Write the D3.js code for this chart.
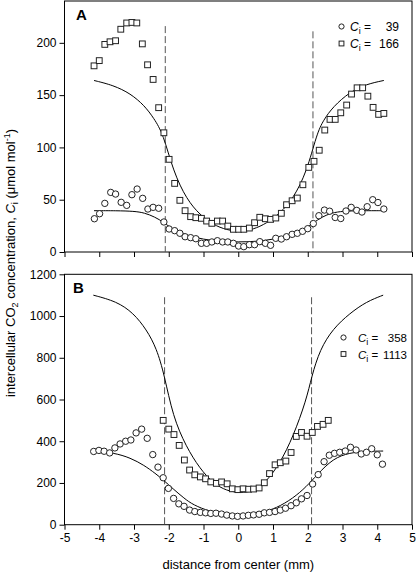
<!DOCTYPE html>
<html><head><meta charset="utf-8">
<script src="https://cdn.jsdelivr.net/npm/d3@7/dist/d3.min.js"></script>
<style>body{margin:0;background:#fff}svg{display:block}text{font-family:"Liberation Sans",Arial,sans-serif;fill:#000}</style>
</head><body>
<script>
// ---------- data ----------
const xTicks = [-5,-4,-3,-2,-1,0,1,2,3,4,5];
const yTicksA = [0,50,100,150,200];
const yTicksB = [0,200,400,600,800,1000,1200];

const circlesA = [[-4.14,31.8],[-3.99,36.6],[-3.84,46.5],[-3.67,57],[-3.53,55.4],[-3.37,47.5],[-3.21,44.6],[-3.06,54.8],[-2.91,60.2],[-2.75,51.3],[-2.6,41.1],[-2.45,42.7],[-2.29,41.8],[-2.14,28.7],[-1.99,22],[-1.83,20.4],[-1.68,17.9],[-1.53,14.6],[-1.37,13.7],[-1.22,12.7],[-1.06,8.3],[-0.91,8.3],[-0.76,9.6],[-0.6,10.8],[-0.45,9.6],[-0.3,9.6],[-0.14,8.3],[0.01,5.7],[0.16,5.1],[0.32,7],[0.47,7],[0.62,9.9],[0.78,8.3],[0.93,6.4],[1.08,13.1],[1.24,12.4],[1.39,14.6],[1.55,16.9],[1.7,17.9],[1.85,19.8],[2.0,22.3],[2.16,27.2],[2.32,34.7],[2.48,40.1],[2.63,39],[2.79,33],[2.95,32],[3.1,39.2],[3.25,42.7],[3.41,39.8],[3.56,38.2],[3.71,43.3],[3.87,50],[4.02,47.3],[4.19,41.1]];
const squaresA = [[-4.15,178],[-4.0,183],[-3.84,198.5],[-3.69,201],[-3.53,202],[-3.38,213],[-3.21,219],[-3.06,219.5],[-2.92,219],[-2.76,199],[-2.61,179],[-2.45,165],[-2.29,138],[-2.14,114],[-1.99,88.6],[-1.83,65.6],[-1.68,49.4],[-1.53,39.5],[-1.37,33.8],[-1.22,32.8],[-1.06,32.2],[-0.91,29.6],[-0.76,27.4],[-0.6,29.6],[-0.45,29.6],[-0.3,24.8],[-0.14,21.7],[0.01,21.7],[0.16,21.7],[0.32,22.9],[0.47,28],[0.62,33.2],[0.78,31.8],[0.93,31.2],[1.08,32.5],[1.24,37],[1.39,45.2],[1.55,49],[1.7,51.6],[1.86,64.3],[2.03,80.9],[2.18,86.7],[2.33,97.3],[2.49,116.6],[2.64,126.8],[2.79,126.8],[2.95,133.1],[3.12,140.5],[3.26,151],[3.42,157],[3.58,157],[3.73,149],[3.88,138.3],[4.04,131.6],[4.19,132.5]];
const fitCirclesA = [[-4.15,39.5],[-3.5,39.5],[-3.0,39],[-2.7,37.5],[-2.4,33.5],[-2.15,28.5],[-1.9,22],[-1.5,16],[-1.0,12],[-0.5,10],[0,9.5],[0.5,10],[1.0,12],[1.5,16],[1.9,21.5],[2.15,27.5],[2.4,33.5],[2.7,37.5],[3.0,39],[3.5,39.5],[4.19,39.5]];
const fitSquaresA = [[-4.15,164],[-3.6,159.5],[-3.1,151.5],[-2.7,140],[-2.43,128],[-2.16,113],[-1.87,77],[-1.48,50],[-1.1,35.5],[-0.72,26],[-0.33,21],[0.05,19.5],[0.43,21.5],[0.82,27.5],[1.2,37],[1.58,51],[1.97,76.5],[2.26,113],[2.45,126],[2.73,139],[3.21,153],[3.69,160.5],[4.19,164]];

const circlesB = [[-4.16,351],[-4.01,356],[-3.86,352],[-3.7,344],[-3.55,368],[-3.4,387],[-3.24,400],[-3.09,406],[-2.94,440],[-2.78,458],[-2.62,414],[-2.46,336],[-2.31,276],[-2.16,225],[-2.01,174],[-1.86,126],[-1.71,100],[-1.56,88],[-1.4,70],[-1.25,63],[-1.09,59],[-0.94,57],[-0.79,54],[-0.64,55],[-0.48,51],[-0.33,46],[-0.17,42],[-0.02,40],[0.14,42],[0.29,45],[0.44,47],[0.6,50],[0.75,57],[0.9,59],[1.06,63],[1.21,70],[1.36,79],[1.52,91],[1.67,105],[1.82,124],[1.98,140],[2.14,195],[2.3,240],[2.47,302],[2.62,333],[2.77,342],[2.92,347],[3.08,353],[3.23,371],[3.39,358],[3.54,339],[3.69,347],[3.84,364],[4.0,335],[4.15,290]];
const squaresB = [[-2.16,500],[-2.0,458],[-1.85,432],[-1.7,380],[-1.55,310],[-1.4,262],[-1.25,239],[-1.09,229],[-0.94,220],[-0.79,205],[-0.63,198],[-0.48,205],[-0.32,196],[-0.17,172],[-0.01,168],[0.14,172],[0.3,170],[0.44,171],[0.6,176],[0.75,201],[0.9,245],[1.06,287],[1.21,297],[1.37,305],[1.52,346],[1.67,423],[1.82,442],[1.98,424],[2.13,442],[2.28,471],[2.44,481],[2.59,500]];
const fitCirclesB = [[-4.16,352],[-3.58,345],[-3.1,320],[-2.71,285],[-2.38,245],[-2.16,215],[-1.85,168],[-1.56,127],[-1.3,95],[-0.82,63],[-0.33,47],[0.05,43],[0.62,55],[1.1,79],[1.58,127],[1.96,182],[2.26,238],[2.73,318],[3.21,345],[3.69,352],[4.17,353]];
const fitSquaresB = [[-4.17,1100],[-3.5,1070],[-3.02,1015],[-2.64,935],[-2.35,845],[-2.13,720],[-1.88,518],[-1.5,374],[-1.11,270],[-0.72,198],[-0.33,162],[0.05,153],[0.43,158],[0.81,206],[1.2,294],[1.58,422],[1.96,598],[2.11,709],[2.35,840],[2.73,940],[3.21,1013],[3.69,1069],[4.17,1100]];

const boundaryA = [[-2.1,216],[2.15,211]];
const boundaryB = [[-2.12,1090],[2.11,1090]];
const legendA = [["39","circle"],["166","square"]];
const legendB = [["358","circle"],["1113","square"]];

// ---------- drawing ----------
const W = 416, H = 573;
const svg = d3.select("body").append("svg").attr("width", W).attr("height", H);
const x = d3.scaleLinear().domain([-5,5]).range([64.5,412]);

function panel(cfg){
  const y = d3.scaleLinear().domain(cfg.ydom).range(cfg.yr);
  const g = svg.append("g");
  g.append("rect").attr("x",x(-5)).attr("y",cfg.yr[1]).attr("width",x(5)-x(-5)).attr("height",cfg.yr[0]-cfg.yr[1])
    .attr("fill","none").attr("stroke","#000").attr("stroke-width",1);
  const xa = g.append("g").attr("transform",`translate(0,${cfg.yr[0]})`)
    .call(d3.axisBottom(x).tickValues(xTicks).tickSize(5).tickSizeOuter(0).tickPadding(4));
  const ya = g.append("g").attr("transform",`translate(${x(-5)},0)`)
    .call(d3.axisLeft(y).tickValues(cfg.yticks).tickSize(5).tickSizeOuter(0).tickPadding(3).tickFormat(d3.format("d")));
  [xa,ya].forEach(a=>{a.select(".domain").remove();a.selectAll("text").style("font-size","12px").attr("fill","#000");a.selectAll("line").attr("stroke","#000");});
  xa.selectAll("text").text(d=>cfg.xlabels ? (d<0?"-"+Math.abs(d):d) : "");
  g.selectAll(".bd").data(cfg.bounds).join("line")
    .attr("x1",d=>x(d[0])).attr("x2",d=>x(d[0])).attr("y1",d=>y(d[1])).attr("y2",y(0))
    .attr("stroke","#555").attr("stroke-width",1).attr("stroke-dasharray","7,3");
  const line = d3.line().x(d=>x(d[0])).y(d=>y(d[1])).curve(d3.curveBasis);
  [cfg.fitC, cfg.fitS].forEach(f=>g.append("path").attr("d",line(f)).attr("fill","none").attr("stroke","#000").attr("stroke-width",1));
  g.selectAll(".sq").data(cfg.sq).join("rect")
    .attr("x",d=>x(d[0])-2.9).attr("y",d=>y(d[1])-2.9).attr("width",5.8).attr("height",5.8)
    .attr("fill","#fff").attr("stroke","#222").attr("stroke-width",1);
  g.selectAll(".ci").data(cfg.ci).join("circle")
    .attr("cx",d=>x(d[0])).attr("cy",d=>y(d[1])).attr("r",3.2)
    .attr("fill","#fff").attr("stroke","#222").attr("stroke-width",1);
  g.append("text").attr("x",cfg.letX).attr("y",cfg.yr[1]+19).style("font-size","15px").style("font-weight","bold").text(cfg.letter);
  cfg.legend.forEach((d,i)=>{
    const ly = cfg.legY + i*cfg.legDy;
    if(d[1]==="circle") g.append("circle").attr("cx",cfg.legX).attr("cy",ly).attr("r",2.6).attr("fill","#fff").attr("stroke","#222");
    else g.append("rect").attr("x",cfg.legX-2.4).attr("y",ly-2.4).attr("width",4.8).attr("height",4.8).attr("fill","#fff").attr("stroke","#222");
    const t = g.append("text").attr("x",cfg.legTX).attr("y",ly+4.5).style("font-size",cfg.legFS+"px");
    t.append("tspan").style("font-style","italic").text("C");
    t.append("tspan").attr("dy",3).style("font-size","9px").text("i");
    t.append("tspan").attr("dy",-3).text(" =");
    g.append("text").attr("x",cfg.legEnd).attr("y",ly+4.5).attr("text-anchor","end").style("font-size",cfg.legFS+"px").text(d[0]);
  });
}

panel({ydom:[0,240], yr:[252,1], yticks:yTicksA, xlabels:false, bounds:boundaryA,
  fitC:fitCirclesA, fitS:fitSquaresA, ci:circlesA, sq:squaresA, letter:"A", letX:76,
  legend:legendA, legX:341.5, legY:26.5, legDy:17, legTX:350, legEnd:399, legFS:12});
panel({ydom:[0,1200], yr:[524.7,274.3], yticks:yTicksB, xlabels:true, bounds:boundaryB,
  fitC:fitCirclesB, fitS:fitSquaresB, ci:circlesB, sq:squaresB, letter:"B", letX:73,
  legend:legendB, legX:343.5, legY:337.5, legDy:16.5, legTX:358, legEnd:407, legFS:11.5});

svg.append("text").attr("x",238.3).attr("y",569).attr("text-anchor","middle").style("font-size","13px").text("distance from center (mm)");
const yl = svg.append("text").attr("transform","translate(15,263) rotate(-90)").attr("text-anchor","middle").style("font-size","13px");
yl.append("tspan").text("intercellular CO");
yl.append("tspan").attr("dy",3).style("font-size","9px").text("2");
yl.append("tspan").attr("dy",-3).text(" concentration,  ");
yl.append("tspan").style("font-style","italic").text("C");
yl.append("tspan").attr("dy",3).style("font-size","9px").text("i");
yl.append("tspan").attr("dy",-3).text(" (\u03bcmol mol");
yl.append("tspan").attr("dy",-5).style("font-size","9px").text("-1");
yl.append("tspan").attr("dy",5).text(")");
</script>
</body></html>
